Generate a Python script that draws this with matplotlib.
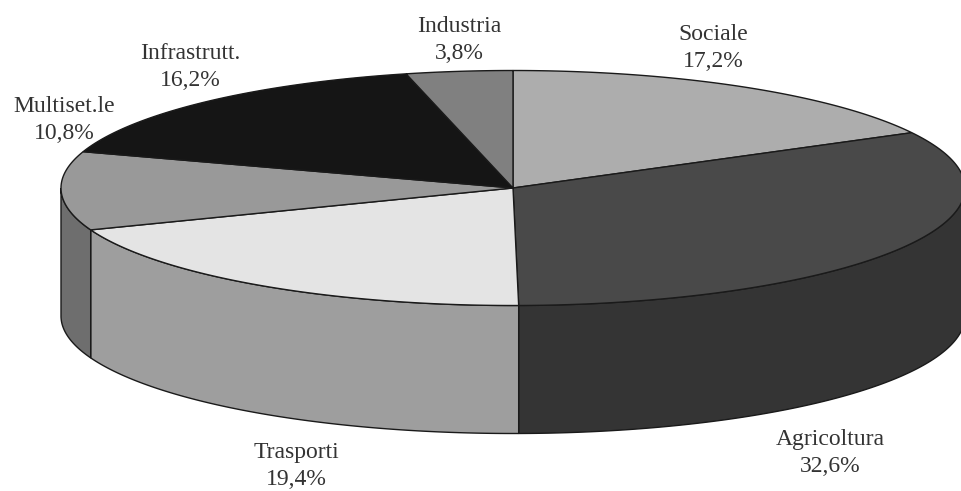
import numpy as np
import matplotlib.pyplot as plt
from matplotlib.patches import Polygon

labels = ['Sociale', 'Agricoltura', 'Trasporti', 'Multiset.le', 'Infrastrutt.', 'Industria']
values = [17.2, 32.6, 19.4, 10.8, 16.2, 3.8]
pct_text = ['17,2%', '32,6%', '19,4%', '10,8%', '16,2%', '3,8%']
top_colors = ['#adadad', '#494949', '#e4e4e4', '#999999', '#151515', '#808080']
side_colors = ['#808080', '#343434', '#9e9e9e', '#6e6e6e', '#000000', '#555555']
label_pos = [(713, 48), (830, 453), (296, 466), (64, 120), (190, 67), (459, 40)]

cx, cy = 513, 188
rx, ry = 452, 117.5
depth = 128


def ell(a):
    # angle in degrees, clockwise from the top of the ellipse
    r = np.radians(a)
    return cx + rx * np.sin(r), cy - ry * np.cos(r)


fig = plt.figure(figsize=(9.62, 4.91), dpi=100)
ax = fig.add_axes([0, 0, 1, 1])
ax.set_xlim(0, 962)
ax.set_ylim(491, 0)
ax.axis('off')

edges = np.concatenate([[0], np.cumsum(values) / sum(values) * 360])

# side wall, only the front half of the rim shows
for i in range(len(values)):
    a0 = max(edges[i], 90)
    a1 = min(edges[i + 1], 270)
    if a1 <= a0:
        continue
    xs, ys = ell(np.linspace(a0, a1, 120))
    pts = np.r_[np.c_[xs, ys], np.c_[xs[::-1], ys[::-1] + depth]]
    ax.add_patch(Polygon(pts, closed=True, fc=side_colors[i], ec='#1a1a1a', lw=1.0, zorder=1))

# top face
for i in range(len(values)):
    xs, ys = ell(np.linspace(edges[i], edges[i + 1], 150))
    pts = np.r_[[[cx, cy]], np.c_[xs, ys]]
    ax.add_patch(Polygon(pts, closed=True, fc=top_colors[i], ec='#1a1a1a', lw=1.0, zorder=2))

for name, pct, (x, y) in zip(labels, pct_text, label_pos):
    ax.text(x, y, name + '\n' + pct, ha='center', va='center', family='Liberation Serif',
            fontsize=17, color='#333333', linespacing=1.32, zorder=3)

fig.savefig('out.png', dpi=100)
